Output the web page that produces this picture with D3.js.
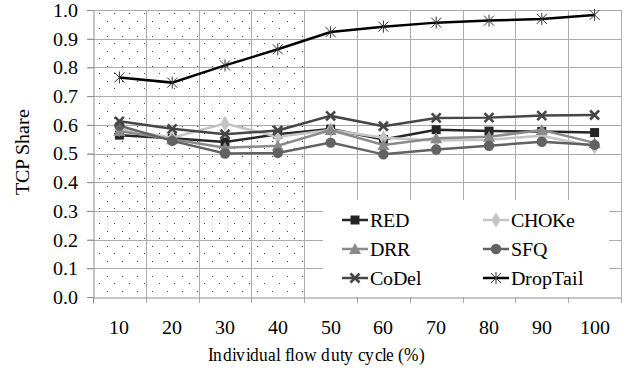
<!DOCTYPE html>
<html>
<head>
<meta charset="utf-8">
<script src="https://cdn.jsdelivr.net/npm/d3@7"></script>
<style>
  @font-face { font-family: "ChartSerif"; src: local("Liberation Serif"), local("LiberationSerif"), local("Times New Roman"); }
  body { margin: 0; font-family: "ChartSerif", "Liberation Serif", serif; }
  svg text { font-family: "ChartSerif", "Liberation Serif", serif !important; }
</style>
</head>
<body>
<script>
// data
var cycles = [10, 20, 30, 40, 50, 60, 70, 80, 90, 100];
var red      = [0.564, 0.553, 0.540, 0.567, 0.585, 0.549, 0.583, 0.578, 0.577, 0.573];
var choke    = [0.585, 0.555, 0.604, 0.558, 0.582, 0.555, 0.545, 0.548, 0.562, 0.524];
var drr      = [0.578, 0.550, 0.520, 0.527, 0.582, 0.530, 0.553, 0.558, 0.582, 0.537];
var sfq      = [0.597, 0.544, 0.500, 0.502, 0.538, 0.497, 0.514, 0.527, 0.541, 0.530];
var codel    = [0.612, 0.586, 0.567, 0.580, 0.631, 0.595, 0.624, 0.625, 0.632, 0.634];
var droptail = [0.765, 0.747, 0.807, 0.863, 0.923, 0.942, 0.956, 0.963, 0.969, 0.983];
var yTicks = [0, 0.1, 0.2, 0.3, 0.4, 0.5, 0.6, 0.7, 0.8, 0.9, 1.0];
var shadedCycles = [10, 20, 30, 40];

var series = [
  {name: "RED",      values: red,      color: "#262626", marker: "square"},
  {name: "CHOKe",    values: choke,    color: "#c4c4c4", marker: "diamond"},
  {name: "DRR",      values: drr,      color: "#8a8a8a", marker: "triangle"},
  {name: "SFQ",      values: sfq,      color: "#626262", marker: "circle"},
  {name: "CoDel",    values: codel,    color: "#464646", marker: "cross"},
  {name: "DropTail", values: droptail, color: "#000000", marker: "star"}
];

var W = 636, H = 371;
var margin = {left: 93, right: 15, top: 10, bottom: 74};

var svg = d3.select("body").append("svg")
    .attr("width", W)
    .attr("height", H);

var x = d3.scaleBand().domain(cycles).range([margin.left, W - margin.right]).padding(0);
var y = d3.scaleLinear().domain([0, 1]).range([H - margin.bottom, margin.top]);

// dotted fill for the first four cycles
var x0 = x(shadedCycles[0]);
var x1 = x(shadedCycles[shadedCycles.length - 1]) + x.bandwidth();
var dots = [];
for (var yy = y(1) + 3, row = 0; yy < y(0); yy += 7.5, row++) {
  for (var xx = x0 + (row % 2 ? 13.5 : 6); xx < x1; xx += 15) dots.push([xx, yy]);
}
svg.append("g").selectAll("rect")
    .data(dots)
    .enter().append("rect")
    .attr("x", function(d) { return Math.round(d[0]); })
    .attr("y", function(d) { return Math.round(d[1]); })
    .attr("width", 1).attr("height", 1)
    .attr("fill", "#444");

// gridlines
svg.append("g").selectAll("line")
    .data(yTicks.slice(1))
    .enter().append("line")
    .attr("x1", margin.left - 6).attr("x2", W - margin.right)
    .attr("y1", function(d) { return Math.round(y(d)) + 0.5; })
    .attr("y2", function(d) { return Math.round(y(d)) + 0.5; })
    .attr("stroke", "#ababab");

svg.append("g").selectAll("line")
    .data(cycles)
    .enter().append("line")
    .attr("x1", function(d) { return Math.round(x(d) + x.bandwidth()) + 0.5; })
    .attr("x2", function(d) { return Math.round(x(d) + x.bandwidth()) + 0.5; })
    .attr("y1", y(1)).attr("y2", y(0) + 6)
    .attr("stroke", "#ababab");

// legend box
svg.append("rect")
    .attr("x", 323).attr("y", 200)
    .attr("width", 286).attr("height", y(0) - 200)
    .attr("fill", "#fff");

// axes
var yAxis = svg.append("g")
    .attr("transform", "translate(" + (Math.round(margin.left) + 0.5) + ",0)")
    .call(d3.axisLeft(y).tickValues(yTicks).tickFormat(d3.format(".1f")).tickSize(6).tickPadding(10));
yAxis.attr("font-family", null).attr("font-size", 20);
yAxis.select(".domain").attr("stroke", "#8c8c8c");
yAxis.selectAll(".tick line").attr("stroke", "#8c8c8c");
yAxis.selectAll("text").attr("fill", "#000");

var xAxis = svg.append("g")
    .attr("transform", "translate(0," + (Math.round(y(0)) + 0.5) + ")")
    .call(d3.axisBottom(x).tickSize(0).tickPadding(22));
xAxis.attr("font-family", null).attr("font-size", 20);
xAxis.select(".domain").attr("stroke", "#8c8c8c");
xAxis.selectAll("text").attr("fill", "#000");
xAxis.append("line")
    .attr("x1", Math.round(x(cycles[0])) + 0.5).attr("x2", Math.round(x(cycles[0])) + 0.5)
    .attr("y1", 0).attr("y2", 6)
    .attr("stroke", "#8c8c8c");

// markers
function drawMarker(g, type, color, cx, cy) {
  if (type === "square") {
    g.append("rect").attr("x", cx - 4.5).attr("y", cy - 4.5).attr("width", 9).attr("height", 9).attr("fill", color);
  } else if (type === "diamond") {
    g.append("path").attr("d", d3.symbol().type(d3.symbolDiamond).size(70)()).attr("transform", "translate(" + cx + "," + cy + ")").attr("fill", color);
  } else if (type === "triangle") {
    g.append("path").attr("d", "M0,-6L6,5L-6,5Z").attr("transform", "translate(" + cx + "," + cy + ")").attr("fill", color);
  } else if (type === "circle") {
    g.append("circle").attr("cx", cx).attr("cy", cy).attr("r", 5.2).attr("fill", color);
  } else if (type === "cross") {
    g.append("path").attr("d", "M-4.5,-4.5L4.5,4.5M-4.5,4.5L4.5,-4.5").attr("transform", "translate(" + cx + "," + cy + ")")
      .attr("stroke", color).attr("stroke-width", 2.6).attr("fill", "none");
  } else if (type === "star") {
    g.append("path").attr("d", "M-5,-5L5,5M-5,5L5,-5M0,-6L0,6").attr("transform", "translate(" + cx + "," + cy + ")")
      .attr("stroke", "#333").attr("stroke-width", 1).attr("fill", "none");
  }
}

var line = d3.line()
    .x(function(d, i) { return x(cycles[i]) + x.bandwidth() / 2; })
    .y(function(d) { return y(d); });

series.forEach(function(s) {
  var g = svg.append("g");
  g.append("path")
    .datum(s.values)
    .attr("d", line)
    .attr("fill", "none")
    .attr("stroke", s.color)
    .attr("stroke-width", 2.5);
  s.values.forEach(function(v, i) {
    drawMarker(g, s.marker, s.color, x(cycles[i]) + x.bandwidth() / 2, y(v));
  });
});

// legend entries
var legendPos = [[342, 220], [483, 220], [342, 249], [483, 249], [342, 278], [483, 278]];
series.forEach(function(s, i) {
  var p = legendPos[i];
  var g = svg.append("g");
  g.append("line")
    .attr("x1", p[0]).attr("x2", p[0] + 26)
    .attr("y1", p[1]).attr("y2", p[1])
    .attr("stroke", s.color).attr("stroke-width", 2.5);
  drawMarker(g, s.marker, s.color, p[0] + 13, p[1]);
  g.append("text")
    .attr("x", p[0] + 28).attr("y", p[1] + 7)
    .style("font-size", "20px")
    .text(s.name);
});

// axis titles
svg.append("text")
    .attr("transform", "translate(29,152) rotate(-90)")
    .attr("text-anchor", "middle")
    .style("font-size", "20px")
    .text("TCP Share");

svg.append("text")
    .attr("x", 208).attr("y", 361)
    .attr("textLength", 216)
    .attr("lengthAdjust", "spacingAndGlyphs")
    .style("font-size", "19px")
    .text("Individual flow duty cycle (%)");
</script>
</body>
</html>
